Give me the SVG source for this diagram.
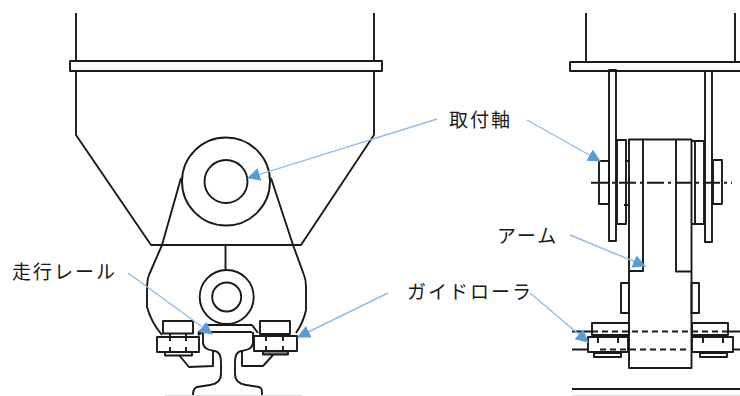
<svg xmlns="http://www.w3.org/2000/svg" width="740" height="396" viewBox="0 0 740 396">
<style>
.l{fill:none;stroke:#1a1a1a;stroke-width:1.9;stroke-linejoin:round}
.d{stroke-dasharray:6 4}
.c{stroke-dasharray:17 4 3 4}
.a{fill:none;stroke:#8fbde6;stroke-width:1.4}
.t{font-family:"Noto Sans CJK JP","Noto Sans",sans-serif;font-size:19px;letter-spacing:2px;fill:#1a1a1a}
.h{fill:#5b9bd5}
</style>
<defs>
<marker id="ah" viewBox="0 0 13 13" refX="12" refY="6.500" markerWidth="13" markerHeight="13" markerUnits="userSpaceOnUse" orient="auto"><path class="h" d="M0 0L13 6.500L0 13z"/></marker>
</defs>
<rect width="740" height="396" fill="#fff"/>
<g id="front-frame" class="l">
<path d="M76 13V61M374 13V61M76 71V135L151 245H301L374 135V71"/>
<rect x="70" y="61" width="312" height="10"/>
<circle cx="226" cy="181.500" r="44"/>
<circle cx="226" cy="181.500" r="21.500"/>
<path d="M181 178L162 245L149 275C147 280 147 285 147 290V307C150 318 156 328 162 335"/>
<path d="M271 178L293 245L304 275C306 280 306 285 306 287V310C304 320 300 327 296 333"/>
<path d="M225.500 245V270"/>
<circle cx="226.700" cy="297" r="27"/>
<circle cx="226.700" cy="297" r="14.500"/>
</g>
<g id="front-roller-left" class="l">
<rect x="163" y="321" width="30" height="12.500"/>
<rect x="157" y="337" width="42" height="15"/>
<rect x="165" y="352" width="27" height="3.500"/>
<path d="M170 334V341M186 334V341M170 347V352M186 347V352"/>
<path d="M179 355L189 367L213 366V351"/>
</g>
<g id="front-roller-right" class="l">
<rect x="260" y="321" width="30" height="13"/>
<rect x="254" y="336" width="43" height="15"/>
<rect x="263" y="351" width="25" height="3.500" fill="#888"/>
<path d="M266 336V341M283 336V341M266 346V351M283 346V351"/>
<path d="M273 355L263 366L242 366V351"/>
</g>
<g id="rail" class="l">
<path d="M198 333L207 325H252L258 333"/>
<path d="M207 332H252"/>
<path d="M203 332V343C204 350 211 350 215 351C220 352 221 356 221 362V374C221 381 216 384 210 385L197 387C194 388 193 390 193 395"/>
<path d="M253 332V343C252 350 245 350 241 351C236 352 235 356 235 362V374C235 381 240 384 246 385L259 387C262 388 262 390 262 395"/>
<path d="M207 328L198 335" stroke-width="2.500"/>
</g>
<path id="base-front" d="M165 395.500H302" fill="none" stroke="#ddd"/>
<g id="side-frame" class="l">
<path d="M586 13V62M735 13V62"/>
<path d="M740 62H570V71H740"/>
<rect x="609" y="70" width="7" height="171"/>
<rect x="705" y="71" width="7" height="171"/>
<rect x="617" y="140" width="9" height="84"/>
<path d="M692 141H704V224H692M695 141V224"/>
<rect x="599" y="161" width="10" height="43"/>
<rect x="713" y="160" width="9" height="44"/>
<path d="M626 161H629M624 205H629"/>
</g>
<g id="side-arm" class="l">
<path d="M629 368V139.500H691.500V368ZM643 139.500V271H629M676 139.500V271.500H691.500"/>
<rect x="621" y="283" width="8" height="30"/>
<rect x="691.500" y="283" width="7.500" height="30"/>
</g>
<g id="side-rollers" class="l">
<rect x="592" y="323" width="37" height="12"/>
<rect x="588" y="337" width="40" height="15"/>
<rect x="594" y="353" width="27" height="4"/>
<path d="M598 337V343M618 337V343"/>
<rect x="692" y="323" width="36" height="12"/>
<rect x="692" y="337" width="41" height="15"/>
<rect x="700" y="353" width="27" height="4"/>
<path d="M703 337V343M723 337V343"/>
<path d="M572 331.500H592M726 331.500H740M572 349.500H588M733 349.500H740"/>
<path class="d" d="M592 331.500H726M600 349.500H690"/>
<path d="M572 389H740"/>
</g>
<path id="center-line" class="l c" d="M591 182.700H732"/>
<path id="base-side" d="M572 395.500H740" fill="none" stroke="#ddd"/>
<g id="connectors">
<path class="a" marker-end="url(#ah)" d="M437 119L248 178"/>
<path class="a" marker-end="url(#ah)" d="M527 120L600 161"/>
<path class="a" marker-end="url(#ah)" d="M570 235L645 266"/>
<path class="a" marker-end="url(#ah)" d="M128 273L212 334"/>
<path class="a" marker-end="url(#ah)" d="M388 293L298 337"/>
<path class="a" marker-end="url(#ah)" d="M530 293L588 342"/>
</g>
<g id="labels">
<text class="t" x="449" y="127">取付軸</text>
<text class="t" x="497" y="243">アーム</text>
<text class="t" x="12" y="279">走行レール</text>
<text class="t" x="407" y="299">ガイドローラ</text>
</g>
</svg>
